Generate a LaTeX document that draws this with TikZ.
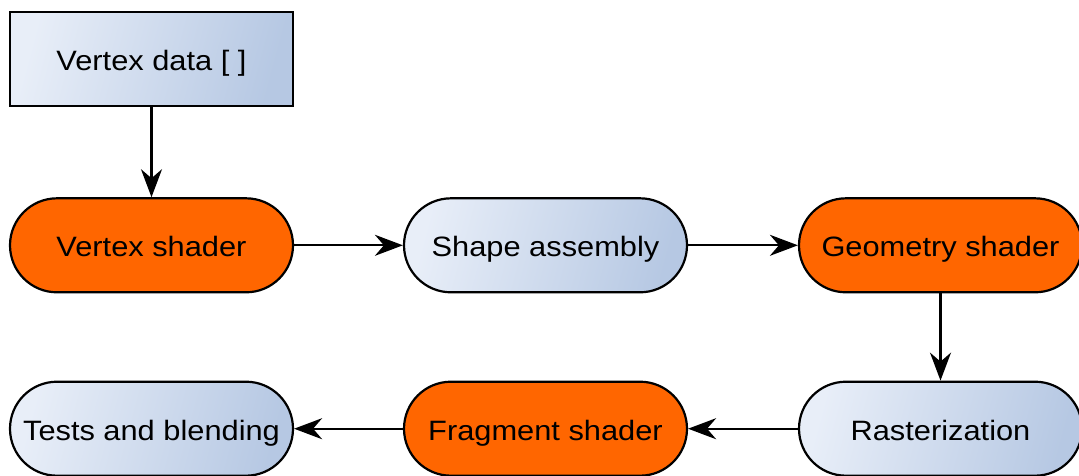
\documentclass[tikz,border=0pt]{standalone}
\usepackage{fontspec}
\setmainfont[FakeStretch=1.1]{Liberation Sans}
\usetikzlibrary{arrows.meta}
\definecolor{paleblue}{RGB}{232,238,248}
\definecolor{steelblue}{RGB}{182,200,227}
\definecolor{shaderorange}{RGB}{255,102,0}
\tikzset{
  base/.style={draw=black, line width=2.2pt, minimum width=283pt, minimum height=94pt,
    inner sep=0pt, text height=24pt, text depth=1pt, font=\fontsize{28}{33}\selectfont},
  databox/.style={base, rectangle, left color=paleblue, right color=steelblue, shading angle=75},
  fixedstage/.style={base, rectangle, rounded corners=47pt, left color=paleblue, right color=steelblue, shading angle=75},
  progstage/.style={base, rectangle, rounded corners=47pt, fill=shaderorange},
  flow/.style={line width=2.2pt, -{Stealth[length=28pt, width=21pt, inset=9pt]}}
}
\begin{document}
\begin{tikzpicture}[x=1pt, y=-1pt]
  \useasboundingbox (0,0) rectangle (1079,475);
  \node[databox]    (vd) at (151.5,59.3)  {Vertex data [ ]};
  \node[progstage]  (vs) at (151.5,245.3) {Vertex shader};
  \node[fixedstage] (sa) at (545.5,245.3) {Shape assembly};
  \node[progstage]  (gs) at (940.5,245.3) {Geometry shader};
  \node[fixedstage] (ra) at (940.5,428.7) {Rasterization};
  \node[progstage]  (fs) at (545.5,428.7) {Fragment shader};
  \node[fixedstage] (tb) at (151.5,428.7) {Tests and blending};
  \draw[flow] (vd) -- (vs);
  \draw[flow] (vs) -- (sa);
  \draw[flow] (sa) -- (gs);
  \draw[flow] (gs) -- (ra);
  \draw[flow] (ra) -- (fs);
  \draw[flow] (fs) -- (tb);
\end{tikzpicture}
\end{document}
